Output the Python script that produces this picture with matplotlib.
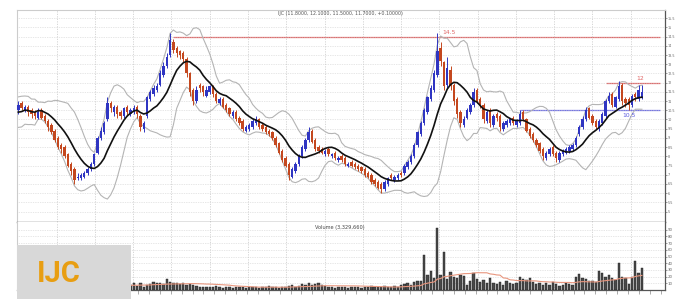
import numpy as np
import pandas as pd
import matplotlib
matplotlib.use("Agg")
import matplotlib.pyplot as plt
from matplotlib.patches import Rectangle

# ---------------- data ----------------
prior_close = [10.3, 9.9, 10.6, 11.0, 10.4, 9.6, 10.1, 10.8, 10.5]

close = [10.8, 10.6, 10.7, 10.4, 10.3, 10.2, 10.4, 10.1, 9.9, 9.6,
         9.3, 8.9, 8.5, 8.4, 8.0, 7.5, 7.2, 6.7, 6.9, 7.0,
         7.1, 7.3, 7.6, 8.1, 9.0, 9.4, 9.8, 10.9, 10.6, 10.7,
         10.3, 10.2, 10.6, 10.4, 10.5, 10.6, 10.3, 9.6, 9.8, 11.2,
         11.5, 11.7, 11.8, 12.5, 12.9, 13.4, 14.3, 13.8, 13.6, 13.5,
         13.3, 12.5, 11.5, 11.0, 11.6, 11.7, 11.5, 11.6, 11.8, 11.4,
         11.0, 11.1, 10.7, 10.5, 10.3, 10.4, 10.0, 9.8, 9.5, 9.6,
         9.7, 9.9, 10.0, 9.6, 9.5, 9.3, 9.2, 9.0, 8.6, 8.2,
         7.8, 7.5, 7.0, 7.3, 7.6, 8.0, 8.5, 8.9, 9.3, 8.8,
         8.4, 8.3, 8.2, 8.3, 8.1, 8.1, 7.9, 7.9, 7.8, 7.6,
         7.6, 7.5, 7.4, 7.3, 7.2, 7.0, 6.9, 6.6, 6.5, 6.3,
         6.2, 6.6, 6.8, 6.8, 6.9, 7.0, 7.0, 7.5, 7.7, 8.0,
         8.6, 9.3, 9.8, 10.5, 11.2, 11.7, 12.5, 13.7, 13.2, 11.8,
         12.8, 11.8, 11.0, 10.3, 9.8, 10.0, 10.5, 10.8, 11.5, 11.0,
         10.8, 10.0, 10.4, 9.8, 10.2, 10.1, 9.6, 9.8, 9.9, 10.0,
         9.8, 9.9, 10.3, 10.0, 9.4, 9.1, 8.9, 8.6, 8.3, 8.0,
         8.2, 8.4, 8.1, 7.9, 8.2, 8.3, 8.4, 8.5, 8.6, 9.0,
         9.6, 10.0, 10.5, 10.1, 9.8, 9.6, 9.9, 10.3, 11.0, 11.3,
         10.8, 11.2, 11.8, 11.0, 10.9, 10.8, 11.3, 11.2, 11.6, 11.5]

open_ = [10.5, 10.9, 10.5, 10.7, 10.5, 10.4, 10.1, 10.5, 10.2, 9.9,
         9.7, 9.4, 9.0, 8.6, 8.5, 8.1, 7.6, 7.3, 6.8, 6.8,
         6.9, 7.1, 7.3, 7.6, 8.2, 9.0, 9.3, 10.0, 10.9, 10.4,
         10.7, 10.4, 10.2, 10.7, 10.3, 10.4, 10.7, 10.2, 9.5, 10.2,
         11.1, 11.4, 11.6, 11.9, 12.4, 12.9, 13.5, 14.2, 13.9, 13.7,
         13.6, 13.3, 12.5, 11.6, 11.0, 11.9, 11.8, 11.3, 11.5, 11.8,
         11.4, 10.9, 11.1, 10.8, 10.6, 10.2, 10.4, 10.1, 9.9, 9.4,
         9.5, 9.6, 9.8, 10.0, 9.7, 9.6, 9.4, 9.3, 9.0, 8.7,
         8.3, 7.9, 7.6, 6.9, 7.2, 7.6, 8.0, 8.4, 8.9, 9.4,
         8.9, 8.5, 8.4, 8.1, 8.4, 8.0, 8.2, 7.8, 8.0, 7.9,
         7.5, 7.7, 7.6, 7.5, 7.4, 7.3, 7.1, 7.0, 6.7, 6.6,
         6.5, 6.2, 6.5, 7.0, 6.7, 6.8, 7.1, 7.1, 7.4, 7.7,
         8.0, 8.6, 9.2, 9.8, 10.4, 11.1, 11.6, 12.4, 13.9, 13.1,
         11.9, 12.7, 11.9, 11.1, 10.4, 9.7, 10.1, 10.4, 10.8, 11.6,
         11.1, 10.8, 9.9, 10.5, 9.7, 10.3, 10.2, 9.5, 9.7, 9.8,
         10.1, 9.7, 9.8, 10.4, 10.0, 9.5, 9.2, 8.9, 8.7, 8.4,
         7.9, 8.1, 8.5, 8.2, 7.8, 8.1, 8.2, 8.3, 8.4, 8.6,
         9.2, 9.6, 10.0, 10.6, 10.2, 9.9, 9.5, 9.8, 10.2, 11.0,
         11.4, 10.7, 11.1, 11.9, 11.1, 11.1, 10.8, 11.4, 11.1, 11.2]

high = [11.0, 11.0, 10.8, 10.8, 10.6, 10.5, 10.6, 10.6, 10.3, 10.0,
        9.8, 9.5, 9.1, 8.7, 8.6, 8.2, 7.7, 7.4, 7.1, 7.1,
        7.2, 7.4, 7.7, 8.2, 9.1, 9.6, 9.9, 11.2, 11.0, 10.8,
        10.8, 10.5, 10.7, 10.8, 10.6, 10.8, 10.8, 10.3, 9.9, 11.3,
        11.6, 11.9, 12.0, 12.7, 13.1, 13.6, 14.7, 14.4, 14.0, 13.8,
        13.7, 13.4, 12.6, 11.7, 11.8, 12.0, 11.9, 11.8, 11.9, 11.9,
        11.5, 11.2, 11.2, 10.9, 10.7, 10.5, 10.5, 10.2, 10.0, 9.7,
        9.8, 10.0, 10.2, 10.1, 9.8, 9.7, 9.5, 9.4, 9.1, 8.8,
        8.4, 8.0, 7.7, 7.4, 7.7, 8.1, 8.6, 9.0, 9.6, 9.5,
        9.0, 8.6, 8.5, 8.4, 8.5, 8.2, 8.3, 8.0, 8.1, 8.0,
        7.7, 7.8, 7.7, 7.6, 7.5, 7.4, 7.2, 7.1, 6.8, 6.7,
        6.6, 6.7, 6.9, 7.1, 7.0, 7.1, 7.2, 7.6, 7.8, 8.1,
        8.7, 9.4, 9.9, 10.6, 11.3, 11.9, 12.7, 14.7, 14.2, 13.2,
        13.4, 12.9, 12.0, 11.2, 10.5, 10.2, 10.6, 10.9, 11.7, 11.7,
        11.2, 10.9, 10.5, 10.6, 10.3, 10.4, 10.3, 9.9, 10.0, 10.1,
        10.2, 10.0, 10.5, 10.5, 10.1, 9.6, 9.3, 9.0, 8.8, 8.5,
        8.3, 8.5, 8.6, 8.3, 8.3, 8.4, 8.5, 8.6, 8.7, 9.1,
        9.7, 10.2, 10.7, 10.7, 10.3, 10.0, 10.0, 10.4, 11.1, 11.5,
        11.5, 11.3, 12.1, 12.0, 11.2, 11.2, 11.4, 11.5, 11.9, 11.9]

low = [10.3, 10.5, 10.4, 10.2, 10.1, 10.0, 10.0, 10.0, 9.8, 9.4,
       9.2, 8.8, 8.4, 8.2, 7.9, 7.4, 7.0, 6.5, 6.7, 6.7,
       6.8, 7.0, 7.2, 7.5, 8.1, 8.9, 9.2, 9.9, 10.4, 10.2,
       10.1, 10.0, 10.1, 10.2, 10.2, 10.3, 10.1, 9.4, 9.3, 10.1,
       11.0, 11.3, 11.5, 11.8, 12.3, 12.8, 13.4, 13.6, 13.4, 13.3,
       13.1, 12.3, 11.3, 10.8, 10.9, 11.5, 11.3, 11.2, 11.4, 11.2,
       10.9, 10.8, 10.6, 10.4, 10.2, 10.1, 9.9, 9.7, 9.4, 9.3,
       9.4, 9.5, 9.7, 9.5, 9.4, 9.2, 9.1, 8.9, 8.5, 8.1,
       7.7, 7.4, 6.7, 6.8, 7.1, 7.5, 7.9, 8.3, 8.8, 8.7,
       8.3, 8.2, 8.1, 8.0, 8.0, 7.9, 7.8, 7.7, 7.7, 7.5,
       7.4, 7.4, 7.3, 7.2, 7.1, 6.9, 6.8, 6.5, 6.4, 6.2,
       6.0, 6.1, 6.4, 6.7, 6.6, 6.7, 6.9, 7.0, 7.3, 7.6,
       7.9, 8.5, 9.1, 9.7, 10.3, 11.0, 11.5, 12.3, 12.9, 11.6,
       11.7, 11.6, 10.8, 10.1, 9.6, 9.6, 10.0, 10.3, 10.7, 10.9,
       10.6, 9.8, 9.8, 9.6, 9.6, 9.9, 9.4, 9.4, 9.6, 9.7,
       9.7, 9.6, 9.7, 9.9, 9.3, 9.0, 8.8, 8.5, 8.2, 7.8,
       7.8, 8.0, 8.0, 7.7, 7.7, 8.0, 8.1, 8.2, 8.3, 8.5,
       9.1, 9.5, 9.9, 10.0, 9.7, 9.5, 9.4, 9.7, 10.1, 10.9,
       10.7, 10.6, 11.0, 10.8, 10.7, 10.5, 10.7, 11.0, 11.0, 11.1]

volume = [6, 5, 4, 7, 5, 4, 6, 5, 4, 6,
          5, 7, 6, 4, 5, 8, 6, 7, 5, 6,
          5, 4, 6, 7, 9, 8, 10, 12, 8, 7,
          6, 5, 7, 6, 8, 10, 6, 10, 5, 8,
          9, 12, 10, 11, 9, 17, 12, 11, 10, 9,
          10, 8, 9, 7, 6, 5, 5, 4, 5, 4,
          6, 4, 3, 4, 5, 3, 4, 5, 4, 3,
          4, 5, 4, 3, 4, 5, 6, 4, 5, 3,
          4, 5, 6, 7, 5, 6, 9, 8, 10, 7,
          9, 11, 8, 6, 5, 4, 3, 4, 5, 4,
          3, 4, 5, 4, 3, 5, 4, 6, 4, 5,
          5, 6, 5, 4, 6, 5, 7, 9, 10, 8,
          12, 14, 13, 52, 22, 28, 18, 92, 22, 57,
          16, 27, 20, 18, 22, 21, 8, 13, 25, 16,
          12, 15, 10, 18, 11, 9, 12, 8, 14, 10,
          9, 11, 20, 16, 15, 18, 12, 9, 11, 8,
          10, 7, 12, 9, 6, 8, 11, 9, 7, 20,
          24, 18, 16, 14, 13, 12, 29, 25, 20, 22,
          18, 15, 40, 20, 18, 9, 20, 43, 26, 33]

title_text = "IJC (11.8000, 12.1000, 11.5000, 11.7000, +0.10000)"
volume_text = "Volume (3,329,660)"
levels = [14.5, 12.0, 10.5]
level_labels = ["14.5", "12", "10.5"]
level_start = [47, 178, 152]
volume_ticks = [10, 20, 30, 40, 50, 60, 70, 80, 90]
price_ticks = [5, 5.5, 6, 6.5, 7, 7.5, 8, 8.5, 9, 9.5, 10, 10.5, 11,
               11.5, 12, 12.5, 13, 13.5, 14, 14.5, 15, 15.5]

# ---------------- figure ----------------
W, H = 675, 299
fig = plt.figure(figsize=(W / 100, H / 100), dpi=100)
fig.patch.set_facecolor("white")

def fx(px):
    return px / W

def fy(py):
    return 1 - py / H

ax = fig.add_axes([fx(17), fy(222), fx(665) - fx(17), fy(10) - fy(222)])
axv = fig.add_axes([fx(17), fy(290), fx(665) - fx(17), fy(222) - fy(290)], sharex=ax)

n = len(close)
x = np.arange(n)
o = np.array(open_)
c = np.array(close)
h = np.array(high)
l = np.array(low)

up_col = "#2f35c2"
dn_col = "#c4481f"
cols = [up_col if ci >= oi else dn_col for ci, oi in zip(c, o)]

# Bollinger bands (10, 2) / moving average
period = 10
s = pd.Series(prior_close + close)
ma = s.rolling(period).mean().values[len(prior_close):]
sd = s.rolling(period).std(ddof=0).values[len(prior_close):]
ax.plot(x, ma + 2 * sd, color="#b4b4b4", lw=0.8, zorder=2)
ax.plot(x, ma - 2 * sd, color="#b4b4b4", lw=0.8, zorder=2)
ax.plot(x, ma, color="#111111", lw=1.2, zorder=4)

# candles
ax.vlines(x, l, h, colors=cols, lw=0.7, zorder=3)
body_bottom = np.minimum(o, c)
body_h = np.maximum(np.abs(c - o), 0.06)
ax.bar(x, body_h, bottom=body_bottom, width=0.72, color=cols, lw=0, zorder=3)

# level lines
level_cols = ["#e06666", "#e06666", "#6f6fe6"]
for lv, st, col in zip(levels, level_start, level_cols):
    ax.hlines(lv, st, 194.5, colors=col, lw=0.9, zorder=1.5)
ax.text(128.5, 14.58, level_labels[0], color="#e06666", fontsize=4.3, va="bottom", ha="left")
ax.text(187.2, 12.1, level_labels[1], color="#e06666", fontsize=4.3, va="bottom", ha="left")
ax.text(183.0, 10.38, level_labels[2], color="#5a5ae0", fontsize=4.3, va="top", ha="left")

xlim = (-0.4, 196.0)
ax.set_xlim(*xlim)
ax.set_ylim(4.43, 15.95)

# grids
month_pos = np.arange(0, 196, 11.6)
for axx in (ax, axv):
    for mp in month_pos[1:]:
        axx.axvline(mp, color="#d0d0d0", lw=0.6, ls=(0, (1.5, 1.5)), zorder=0)

ax.set_yticks(price_ticks)
ax.set_yticklabels([("%g" % v) for v in price_ticks])
ax.yaxis.tick_right()
ax.grid(axis="y", color="#cfcfcf", lw=0.5, ls=(0, (1, 1.5)))
ax.tick_params(axis="y", which="both", right=True, length=1.5, width=0.5, color="#777777",
               labelsize=2.4, labelcolor="#666666", pad=0.5)
ax.tick_params(axis="x", bottom=False, labelbottom=False)

for side in ("top", "left"):
    ax.spines[side].set_color("#cccccc")
    ax.spines[side].set_linewidth(0.8)
ax.spines["right"].set_color("#555555")
ax.spines["right"].set_linewidth(0.9)
ax.spines["bottom"].set_color("#666666")
ax.spines["bottom"].set_linewidth(1.0)

fig.text(fx(340), fy(13.5), title_text, fontsize=3.4, color="#555555", ha="center", va="center")

# volume panel
vol = np.array(volume, dtype=float)
axv.bar(x, vol, width=0.7, color="#4a4a4a", edgecolor="#1e1e1e", lw=0.3, zorder=3)
vma = pd.Series(volume, dtype=float).rolling(20, min_periods=1).mean().values
axv.plot(x, vma, color="#e8967e", lw=0.8, zorder=4)
axv.set_ylim(0, 101.5)
axv.set_yticks(volume_ticks)
axv.yaxis.tick_right()
axv.grid(axis="y", color="#cfcfcf", lw=0.5, ls=(0, (1, 1.5)))
axv.tick_params(axis="y", right=True, length=1.5, width=0.5, color="#777777",
                labelsize=2.8, labelcolor="#666666", pad=0.5)
axv.set_xticks(np.arange(0, 196, 3.3))
axv.tick_params(axis="x", bottom=True, length=3, width=0.5, color="#888888",
                labelbottom=False)
axv.spines["top"].set_visible(False)
axv.spines["left"].set_color("#cccccc")
axv.spines["right"].set_color("#555555")
axv.spines["right"].set_linewidth(0.9)
axv.spines["bottom"].set_color("#555555")
axv.spines["bottom"].set_linewidth(0.9)
axv.set_xlim(*xlim)

fig.text(fx(340), fy(227.5), volume_text, fontsize=3.6, color="#444444", ha="center", va="center")

# IJC label box
fig.add_artist(Rectangle((fx(17), 0), fx(131) - fx(17), fy(245), transform=fig.transFigure,
                         facecolor="#d8d8d8", edgecolor="none", zorder=10))
fig.text(fx(37), fy(274), "IJC", color="#e89e12", fontsize=21, fontweight="bold",
         family=["Roboto", "DejaVu Sans"], ha="left", va="center", zorder=11)

fig.savefig("out.png", dpi=100, facecolor="white")
